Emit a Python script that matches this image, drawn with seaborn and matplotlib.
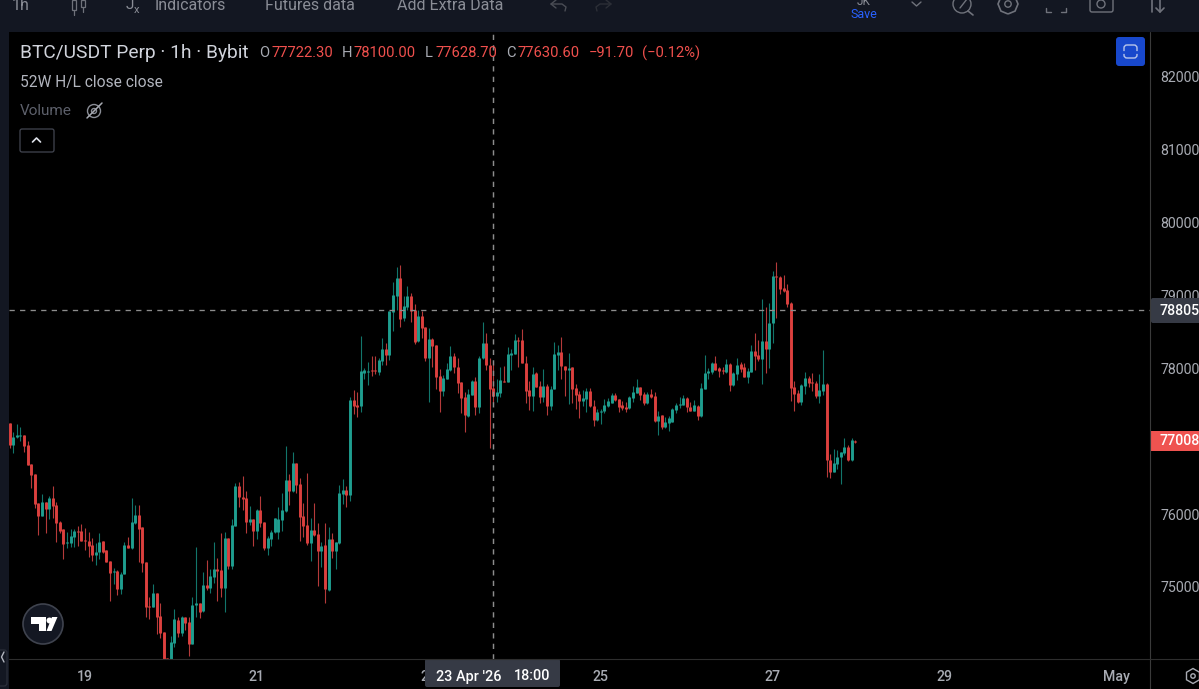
import numpy as np
import pandas as pd
import seaborn as sns
import matplotlib.pyplot as plt
from matplotlib.patches import Rectangle, FancyBboxPatch, Circle, Polygon, RegularPolygon

# hourly candles, first one is 18 Apr 03:00
opens = [
    77245, 76948, 77053, 77076, 77085, 76948, 76683, 76550, 76148, 75974,
    76161, 76065, 76216, 76125, 75896, 75791, 75599, 75599, 75690, 75773,
    75768, 75645, 75636, 75572, 75439, 75476, 75626, 75508, 75357, 75201,
    75224, 74973, 75174, 75576, 75530, 75883, 75988, 75818, 75348, 74739,
    74730, 74922, 74602, 74378, 74020, 73950, 74237, 74547, 74365, 74593,
    74525, 74214, 74753, 74776, 74676, 75028, 74982, 75142, 75248, 75234,
    74982, 75668, 75289, 75842, 76390, 76240, 76217, 75888, 75933, 75773,
    76057, 75888, 75540, 75654, 75750, 75750, 75920, 76043, 76468, 76322,
    76697, 76413, 75974, 75851, 75600, 75782, 75728, 75494, 75577, 74959,
    75654, 75494, 75600, 76276, 76331, 76263, 77566, 77497, 77483, 77931,
    77954, 77977, 77977, 77954, 78105, 78265, 78183, 78777, 78992, 79234,
    78686, 78846, 78992, 78800, 78375, 78722, 78562, 78137, 78398, 78320,
    77895, 77689, 77854, 77977, 78169, 78023, 77817, 77611, 77346, 77634,
    77826, 77474, 78137, 78343, 78046, 77726, 77625, 77657, 77831, 77817,
    78183, 78197, 78389, 78389, 78078, 77703, 77620, 77930, 77757, 77601,
    77761, 77487, 77711, 78182, 78219, 78031, 77976, 78013, 77725, 77647,
    77556, 77578, 77688, 77487, 77290, 77405, 77418, 77482, 77528, 77633,
    77574, 77492, 77473, 77450, 77588, 77665, 77738, 77647, 77519, 77647,
    77620, 77277, 77359, 77190, 77245, 77268, 77428, 77492, 77501, 77588,
    77473, 77418, 77487, 77345, 77716, 77930, 77953, 78068, 77999, 77976,
    77949, 78054, 77771, 77917, 78054, 78013, 77876, 77954, 78237, 78182,
    78128, 78374, 78265, 78617, 79270, 79257, 79097, 79074, 78900, 77739,
    77661, 77542, 77757, 77862, 77807, 77794, 77625, 77689, 77785, 76742,
    76582, 76687, 76783, 76834, 76925, 76738, 77007,
]
closes = [
    76948, 77062, 77085, 77085, 76939, 76673, 76536, 76139, 75974, 76161,
    76065, 76216, 76111, 75883, 75768, 75590, 75622, 75704, 75773, 75759,
    75636, 75631, 75562, 75439, 75476, 75622, 75476, 75348, 75197, 75220,
    74968, 75178, 75576, 75540, 75896, 75988, 75796, 75334, 74730, 74721,
    74913, 74593, 74365, 73950, 73990, 74241, 74557, 74365, 74593, 74511,
    74214, 74753, 74776, 74662, 75028, 74982, 75152, 75243, 75220, 74982,
    75668, 75289, 75851, 76390, 76230, 76203, 75897, 75933, 75773, 76057,
    75883, 75531, 75668, 75750, 75942, 75933, 76057, 76468, 76322, 76697,
    76400, 75965, 75837, 75600, 75782, 75714, 75494, 75568, 74973, 75654,
    75494, 75613, 76294, 76331, 76258, 77566, 77483, 77474, 77968, 77977,
    77968, 77963, 77963, 78114, 78265, 78183, 78791, 79006, 79234, 78677,
    78855, 78992, 78791, 78366, 78722, 78549, 78137, 78398, 78306, 77886,
    77689, 77863, 77986, 78169, 78014, 77803, 77598, 77360, 77648, 77826,
    77474, 78146, 78343, 78046, 77716, 77625, 77680, 77840, 77813, 78197,
    78206, 78389, 78379, 78078, 77694, 77625, 77921, 77748, 77601, 77757,
    77487, 77716, 78196, 78219, 78031, 77976, 78008, 77716, 77633, 77556,
    77592, 77688, 77482, 77290, 77405, 77418, 77496, 77551, 77638, 77565,
    77473, 77450, 77437, 77610, 77670, 77738, 77638, 77519, 77647, 77601,
    77272, 77350, 77190, 77263, 77313, 77437, 77501, 77505, 77592, 77464,
    77418, 77492, 77345, 77725, 77940, 77958, 78077, 77976, 77967, 77963,
    78054, 77771, 77931, 78045, 77990, 77885, 77968, 78237, 78173, 78128,
    78374, 78265, 78626, 79266, 79257, 79083, 79060, 78877, 77734, 77647,
    77533, 77771, 77862, 77794, 77794, 77620, 77702, 77780, 76742, 76582,
    76696, 76788, 76847, 76925, 76742, 77017, 76994,
]
highs = [
    77245, 77122, 77236, 77190, 77085, 77003, 76683, 76550, 76148, 76271,
    76161, 76248, 76385, 76171, 75910, 75791, 75759, 75791, 75791, 75837,
    75864, 75809, 75750, 75677, 75608, 75745, 75636, 75508, 75357, 75256,
    75233, 75210, 75622, 75681, 76216, 76125, 76125, 75828, 75348, 74868,
    75037, 74922, 74776, 74378, 74030, 74328, 74694, 74593, 74602, 74593,
    74593, 74858, 75544, 74776, 75211, 75371, 75248, 75622, 75394, 75737,
    75760, 75677, 75933, 76423, 76436, 76523, 76322, 76112, 75933, 76066,
    76249, 75897, 75700, 75782, 75942, 76093, 76285, 76935, 76551, 76857,
    76706, 76500, 76148, 76560, 75942, 76148, 75874, 75622, 75874, 75819,
    75737, 75622, 76400, 76477, 76386, 77611, 77703, 77671, 78443, 78000,
    78091, 78169, 78169, 78137, 78411, 78343, 78791, 79180, 79385, 79417,
    78992, 79129, 79029, 78882, 78800, 78786, 78571, 78549, 78411, 78320,
    77986, 77909, 78069, 78306, 78206, 78146, 77817, 77671, 77712, 77840,
    77876, 78169, 78640, 78480, 78146, 78100, 77849, 78023, 78032, 78288,
    78261, 78471, 78425, 78535, 78169, 77831, 78022, 77944, 77825, 77985,
    77780, 77761, 78356, 78319, 78424, 78036, 78214, 78022, 77784, 77688,
    77702, 77725, 77725, 77565, 77437, 77437, 77578, 77588, 77656, 77656,
    77583, 77556, 77542, 77620, 77757, 77848, 77748, 77670, 77679, 77711,
    77679, 77418, 77359, 77336, 77345, 77450, 77519, 77601, 77633, 77601,
    77542, 77565, 77496, 77793, 78182, 77999, 78090, 78168, 78022, 78022,
    78127, 78068, 77954, 78137, 78082, 78068, 78009, 78320, 78480, 78388,
    78950, 78845, 78891, 79335, 79453, 79270, 79280, 79152, 78905, 77830,
    77702, 77780, 77954, 77899, 77931, 77826, 77917, 78251, 77794, 76825,
    76893, 76879, 76857, 77048, 76948, 77048, 77017,
]
lows = [
    76911, 76833, 77039, 77007, 76856, 76673, 76363, 76079, 75713, 75974,
    75736, 75933, 75942, 75613, 75736, 75384, 75540, 75553, 75553, 75562,
    75636, 75508, 75416, 75357, 75302, 75380, 75462, 75348, 74813, 75037,
    74890, 74904, 75174, 75540, 75521, 75870, 75348, 75210, 74593, 74557,
    74730, 74355, 74305, 73950, 73980, 73900, 74182, 74310, 74328, 74410,
    74058, 74214, 74593, 74570, 74662, 74959, 74923, 75051, 74813, 74868,
    74662, 75248, 75243, 75842, 76102, 76057, 75737, 75851, 75563, 75654,
    75828, 75508, 75440, 75563, 75737, 75654, 75769, 76034, 76125, 76308,
    76285, 75627, 75691, 75577, 75362, 75705, 75014, 75270, 74777, 74950,
    75403, 75248, 75590, 76139, 76102, 76180, 77374, 77337, 77406, 77849,
    77771, 77895, 77922, 77909, 78046, 78046, 78114, 78512, 78800, 78571,
    78654, 78800, 78640, 78334, 78366, 78411, 78105, 77543, 78023, 77717,
    77406, 77625, 77849, 77968, 77931, 77657, 77383, 77131, 77337, 77634,
    77360, 77383, 78123, 77977, 76903, 77520, 77543, 77611, 77808, 77817,
    77977, 78197, 78023, 78069, 77520, 77428, 77418, 77748, 77519, 77542,
    77359, 77428, 77711, 77976, 77853, 77620, 77505, 77528, 77437, 77313,
    77487, 77405, 77464, 77208, 77281, 77236, 77391, 77464, 77519, 77551,
    77405, 77428, 77405, 77441, 77542, 77656, 77565, 77496, 77510, 77588,
    77268, 77085, 77162, 77176, 77140, 77263, 77382, 77460, 77492, 77405,
    77418, 77418, 77290, 77336, 77711, 77848, 77917, 77976, 77885, 77921,
    77940, 77689, 77762, 77839, 77954, 77876, 77798, 77945, 77977, 78100,
    77785, 77931, 78000, 78342, 78694, 79014, 79042, 78845, 77556, 77419,
    77519, 77497, 77643, 77748, 77689, 77588, 77529, 77634, 76514, 76500,
    76573, 76619, 76413, 76811, 76733, 76728, 76980,
]

price_ticks = [75000, 76000, 77000, 78000, 79000, 80000, 81000, 82000]
day_ticks = [21, 69, 117, 165, 213, 261, 309]
day_labels = ['19', '21', '23', '25', '27', '29', 'May']
crosshair_candle = 135
crosshair_price = 78800

W, H = 1199, 689
BG = '#131722'
UP = '#1f9e8f'
DOWN = '#dc403e'
UP_WICK = '#12756b'
DOWN_WICK = '#b53a3a'
RED_TEXT = '#f0504d'

sns.set_theme(style='ticks', rc={'font.family': ['Roboto', 'DejaVu Sans'], 'axes.facecolor': '#000000'})
fig = plt.figure(figsize=(W / 100, H / 100), dpi=100, facecolor=BG)


def px_axes(left, top, right, bottom, **kw):
    return fig.add_axes([left / W, 1 - bottom / H, (right - left) / W, (bottom - top) / H], **kw)


# black panes behind the price and time scales
back = fig.add_axes([0, 0, 1, 1], zorder=0)
back.set_xlim(0, W)
back.set_ylim(H, 0)
back.axis('off')
back.add_patch(Rectangle((9, 32), W - 9, H - 32, color='#000000', lw=0))

ax = px_axes(9, 32, 1150, 659, zorder=1)

k = np.arange(len(opens))
up = np.array(closes) >= np.array(opens)
wicks = pd.DataFrame({
    'k': np.tile(k, 2),
    'price': highs + lows,
    'side': np.tile(np.where(up, 'up', 'down'), 2),
})
bodies = pd.DataFrame({
    'k': np.tile(k, 2),
    'price': opens + closes,
    'side': np.tile(np.where(up, 'up', 'down'), 2),
})

sns.lineplot(data=wicks, x='k', y='price', hue='side', units='k', estimator=None, sort=False,
             palette={'up': UP_WICK, 'down': DOWN_WICK}, linewidth=0.8, legend=False,
             solid_capstyle='butt', ax=ax)
sns.lineplot(data=bodies, x='k', y='price', hue='side', units='k', estimator=None, sort=False,
             palette={'up': UP, 'down': DOWN}, linewidth=2.1, legend=False,
             solid_capstyle='butt', ax=ax)

ax.set_xlim(-0.195, 318.3)
ax.set_ylim(74012, 82613)
ax.set_xlabel('')
ax.set_ylabel('')
ax.yaxis.tick_right()
ax.set_yticks(price_ticks)
ax.set_yticklabels([str(p) for p in price_ticks], color='#a8abb3', fontsize=10.2, ha='left')
ax.set_xticks(day_ticks)
ax.set_xticklabels(day_labels, color='#a8abb3', fontsize=10.2, fontweight='medium')
ax.tick_params(axis='y', length=0, pad=7.5)
ax.tick_params(axis='x', length=0, pad=8)
for s in ax.spines.values():
    s.set_visible(False)

# crosshair
ax.axhline(crosshair_price, color='#8d8d8d', lw=0.95, dashes=(4, 4))
ax.axvline(crosshair_candle, color='#8d8d8d', lw=1.05, dashes=(3.6, 3.6))

# toolbar, legend and the other screen furniture, in pixel coordinates
ui = fig.add_axes([0, 0, 1, 1], zorder=10)
ui.set_xlim(0, W)
ui.set_ylim(H, 0)
ui.axis('off')
ui.patch.set_alpha(0)


def txt(x, y, s, color='#8a8d96', size=10.5, ha='left', **kw):
    return ui.text(x, y, s, color=color, fontsize=size, ha=ha, va='center', **kw)


def line(xs, ys, color='#6f727b', lw=1.0, **kw):
    ui.plot(xs, ys, color=color, lw=lw, solid_capstyle='round', **kw)


# pane borders
line([1150, 1150], [32, 689], color='#3a3a3a', lw=0.8)
line([9, 1199], [659, 659], color='#2e2e2e', lw=0.8)

# top toolbar (cut off by the screenshot)
txt(12, 6, '1h', size=11.5)
txt(155, 6, 'Indicators', size=11.5)
txt(265, 6, 'Futures data', size=11.5)
txt(397, 6, 'Add Extra Data', size=11.5)
txt(864, 1.5, 'JK', size=8.5, ha='center')
txt(864, 14, 'Save', color='#2962ff', size=9, ha='center')
# candle icon
ui.add_patch(Rectangle((72, 0), 4, 10, fc='none', ec='#6f727b', lw=0.9))
ui.add_patch(Rectangle((81, 0), 4, 7, fc='none', ec='#6f727b', lw=0.9))
line([74, 74], [10, 15], lw=0.9)
line([83, 83], [7, 12], lw=0.9)
txt(126, 5, 'J', size=11)
txt(134, 10, 'x', size=8)
# undo, redo
line([556, 551, 556], [0, 4, 8], color='#4a4d55', lw=1)
line([551, 562, 566, 565], [4, 4, 7, 11], color='#4a4d55', lw=1)
line([606, 611, 606], [0, 4, 8], color='#2c2f37', lw=1)
line([611, 600, 596, 597], [4, 4, 7, 11], color='#2c2f37', lw=1)
line([912, 916.5, 921], [2, 6, 2], lw=1)
ui.add_patch(Circle((962, 4), 9, fc='none', ec='#6f727b', lw=1))
line([968, 973], [11, 15], lw=1.2)
line([960, 967], [8, -1], lw=1)
ui.add_patch(RegularPolygon((1008, 4), 8, radius=10, fc='none', ec='#6f727b', lw=1.2))
ui.add_patch(Circle((1008, 4), 3.2, fc='none', ec='#6f727b', lw=1))
line([1046, 1046, 1051], [8, 12, 12], lw=1)
line([1061, 1066, 1066], [12, 12, 8], lw=1)
ui.add_patch(FancyBboxPatch((1090, -6), 23, 18, boxstyle='round,pad=0,rounding_size=2', fc='none', ec='#6f727b', lw=1))
ui.add_patch(Circle((1101, 4), 4, fc='none', ec='#6f727b', lw=1))
line([1152, 1152], [0, 12], lw=1.2)
line([1160, 1160], [0, 12], lw=1.2)
line([1156, 1160, 1164], [8, 12, 8], lw=1.2)

# legend block
txt(20, 53, 'BTC/USDT Perp · 1h · Bybit', color='#d1d4dc', size=13.8)
ohlc_row = [
    (259, 'O', '#a8abb3'), (271, '77722.30', RED_TEXT),
    (342, 'H', '#a8abb3'), (354, '78100.00', RED_TEXT),
    (425, 'L', '#a8abb3'), (435, '77628.70', RED_TEXT),
    (506, 'C', '#a8abb3'), (517, '77630.60', RED_TEXT),
    (589, '−91.70', RED_TEXT), (642, '(−0.12%)', RED_TEXT),
]
for x, s, c in ohlc_row:
    txt(x, 53, s, color=c, size=10.6)
txt(20, 82, '52W H/L close close', color='#b2b5be', size=11.2)
txt(20, 111, 'Volume', color='#5d606b', size=11)
# hidden-eye icon
ui.add_patch(Circle((94, 111), 6.5, fc='none', ec='#8a8d96', lw=1))
ui.add_patch(Circle((94, 111), 2.5, fc='none', ec='#8a8d96', lw=1))
line([87, 102], [118, 103], color='#a8abb3', lw=1.1)
ui.add_patch(FancyBboxPatch((20, 129), 34, 23, boxstyle='round,pad=0,rounding_size=2', fc='#000000', ec='#434651', lw=0.9))
line([32.5, 36.5, 40.5], [142, 138, 142], color='#e0e3eb', lw=1.2)

# blue button
ui.add_patch(FancyBboxPatch((1116, 37), 29, 29, boxstyle='round,pad=0,rounding_size=3', fc='#1848cc', ec='none'))
ui.add_patch(FancyBboxPatch((1124, 45), 13, 13, boxstyle='round,pad=0,rounding_size=3', fc='none', ec='#b9c6ea', lw=1))
line([1122, 1139], [51.5, 51.5], color='#1848cc', lw=2)

# price scale labels
ui.add_patch(FancyBboxPatch((1151, 298), 60, 25, boxstyle='round,pad=0,rounding_size=2', fc='#363a45', ec='none'))
txt(1160, 311, '78805', color='#ffffff', size=10.2, fontweight='medium')
ui.add_patch(Rectangle((1151, 431), 48, 20, fc='#ef5350', ec='none'))
txt(1160, 441, '77008', color='#ffffff', size=10.2, fontweight='medium')

# crosshair date label
ui.add_patch(FancyBboxPatch((425, 659), 135, 28, boxstyle='round,pad=0,rounding_size=2', fc='#363a45', ec='none'))
txt(436, 676.5, "23 Apr '26", color='#ffffff', size=10.4, fontweight='medium')
txt(514, 676.5, '18:00', color='#ffffff', size=10.4, fontweight='medium')

# logo
ui.add_patch(Circle((43, 624), 20, fc='#131722', ec='#3f434e', lw=1.2))
ui.add_patch(Polygon([(31, 617), (46, 617), (46, 631), (39, 631), (39, 624), (31, 624)], fc='#ffffff', ec='none'))
ui.add_patch(Circle((49.5, 620.5), 3, fc='#ffffff', ec='none'))
ui.add_patch(Polygon([(52, 617), (57.5, 617), (51.5, 631), (46.5, 631)], fc='#ffffff', ec='none'))

# collapse tab, bottom left
ui.add_patch(FancyBboxPatch((-6, 650), 13, 36, boxstyle='round,pad=0,rounding_size=3', fc='#131722', ec='#2a2e39', lw=0.9))
line([4, 1.5, 4], [652, 657, 662], color='#b2b5be', lw=1)

# settings hexagon, bottom right
ui.add_patch(RegularPolygon((1193, 676), 6, radius=7.5, fc='none', ec='#a8abb3', lw=1))
ui.add_patch(Circle((1193, 676), 2.2, fc='none', ec='#a8abb3', lw=1))

fig.savefig('out.png', dpi=100, facecolor=BG)
